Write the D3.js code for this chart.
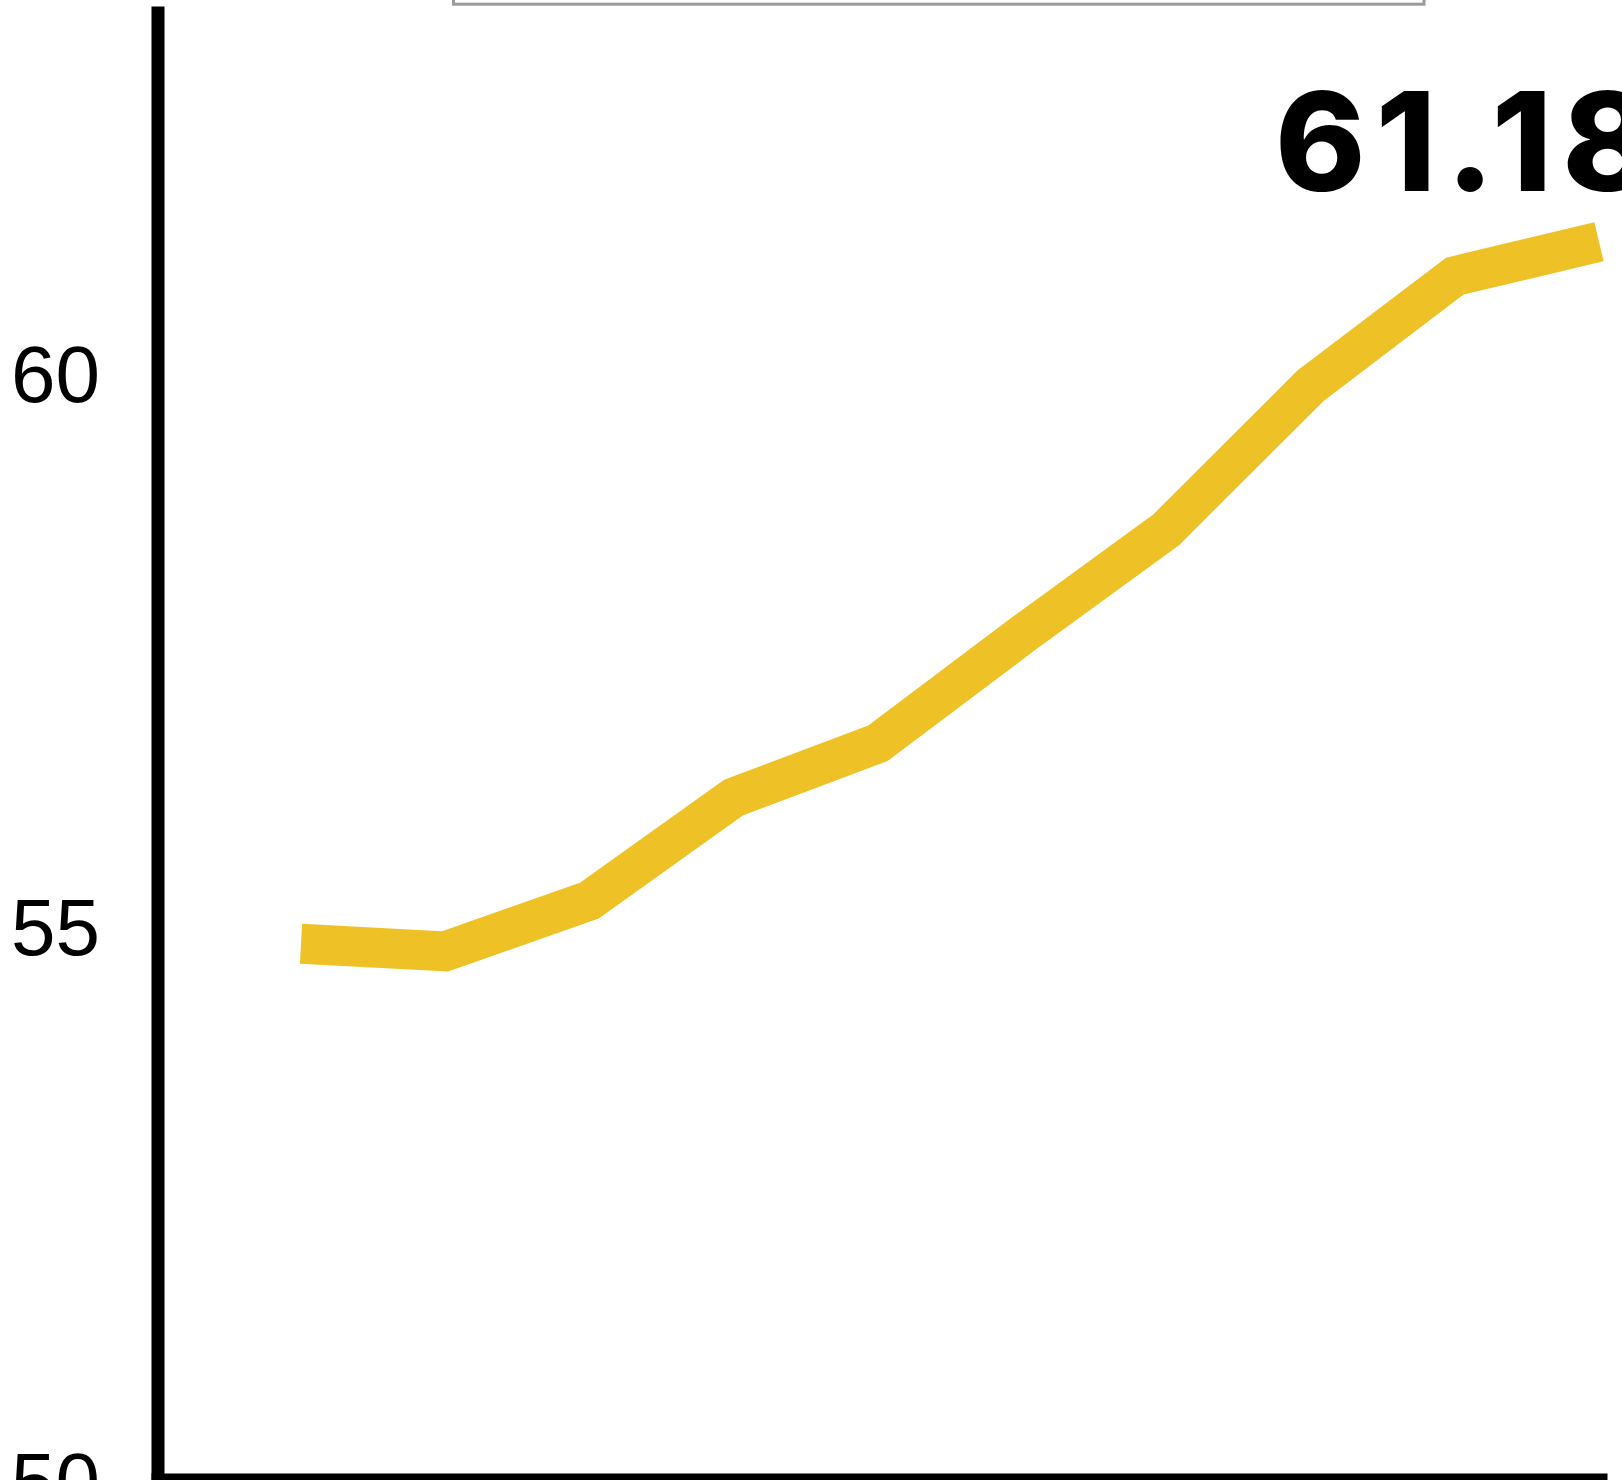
<!DOCTYPE html>
<html>
<head>
<meta charset="utf-8">
<script src="https://cdn.jsdelivr.net/npm/d3@7"></script>
<style>
  html, body { margin: 0; padding: 0; background: #ffffff; overflow: hidden; }
  svg { display: block; }
</style>
</head>
<body>
<svg id="chart" width="1622" height="1480"></svg>
<script>
// ---- data ----
const categories = [1, 2, 3, 4, 5, 6, 7, 8, 9, 10];
const values = [54.84, 54.77, 55.23, 56.16, 56.65, 57.63, 58.58, 59.88, 60.87, 61.18];
const yTickValues = [50, 55, 60];
const lastLabel = "61.18";

// ---- layout ----
const svg = d3.select("#chart");

const x = d3.scalePoint().domain(categories).range([301, 1599]);
const y = d3.scaleLinear().domain([50, 63.31]).range([1479.5, 6]);

// legend/title box mostly above the viewport
svg.append("rect")
  .attr("x", 453.5).attr("y", -80)
  .attr("width", 970.5).attr("height", 84.2)
  .attr("fill", "#ffffff")
  .attr("stroke", "#9a9a9a")
  .attr("stroke-width", 3);

// x axis (baseline)
const xAxisScale = d3.scaleLinear().domain([0, 1]).range([151, 1607]);
svg.append("g")
  .attr("transform", `translate(0,${y(50)})`)
  .call(d3.axisBottom(xAxisScale).tickValues([]).tickSize(0).tickSizeOuter(0))
  .call(g => g.select(".domain").attr("stroke", "#000").attr("stroke-width", 13));

// y axis
const yAxis = svg.append("g")
  .attr("transform", `translate(157.5,0)`)
  .call(d3.axisLeft(y).tickValues(yTickValues).tickFormat(d3.format("d")).tickSize(0).tickSizeOuter(0).tickPadding(57.5));
yAxis.select(".domain").attr("stroke", "#000").attr("stroke-width", 13);
yAxis.selectAll(".tick text")
  .attr("font-family", "'Liberation Sans', Arial, sans-serif")
  .attr("font-size", 80)
  .attr("fill", "#000")
  .attr("dy", "0.358em");

// line
const line = d3.line()
  .x((d, i) => x(categories[i]))
  .y(d => y(d));

svg.append("path")
  .datum(values)
  .attr("d", line)
  .attr("fill", "none")
  .attr("stroke", "#eec226")
  .attr("stroke-width", 40)
  .attr("stroke-linejoin", "miter")
  .attr("stroke-linecap", "butt");

// end value label
const lastCat = categories[categories.length - 1];
const lastVal = values[values.length - 1];
svg.append("text")
  .attr("x", x(lastCat) - 324)
  .attr("y", y(lastVal) - 51)
  .attr("font-family", "Inter, 'Open Sans', sans-serif")
  .attr("font-weight", 800)
  .attr("font-size", 137)
  .attr("letter-spacing", 10)
  .attr("fill", "#000")
  .text(lastLabel);
</script>
</body>
</html>
